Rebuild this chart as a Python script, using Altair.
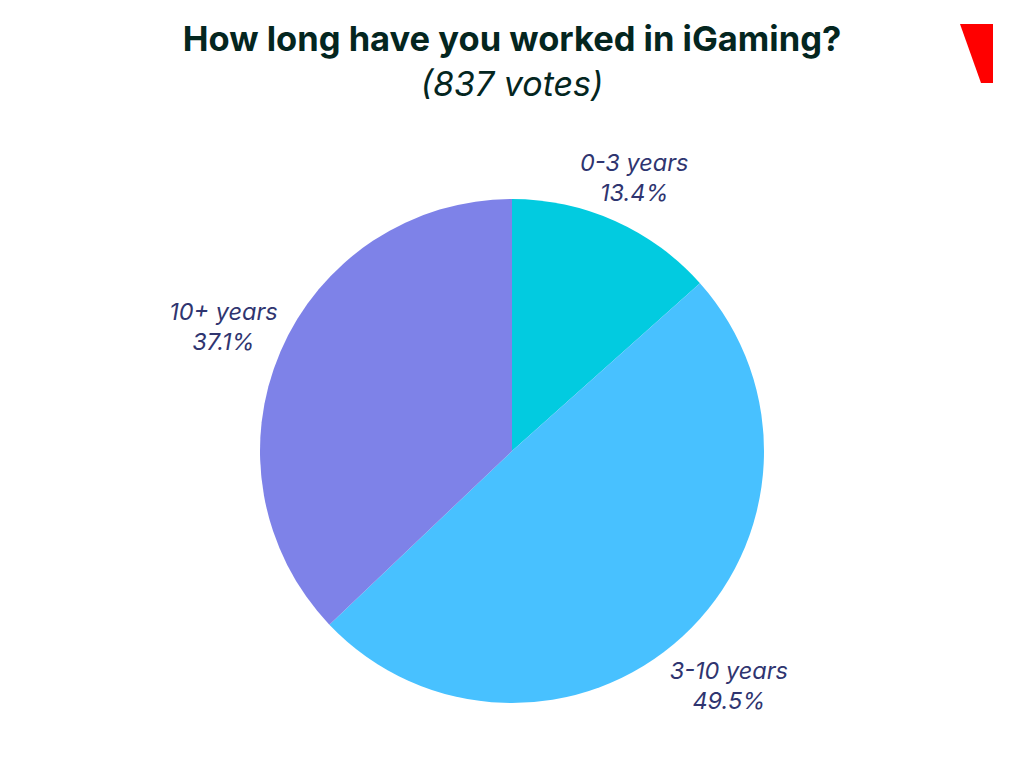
import altair as alt
import pandas as pd

categories = ["0-3 years", "3-10 years", "10+ years"]
shares = [13.4, 49.5, 37.1]
percent_labels = ["13.4%", "49.5%", "37.1%"]
order = [0, 1, 2]
colors = ["#02CBE0", "#48C1FF", "#7E82E8"]
title_text = "How long have you worked in iGaming?"
subtitle_text = "(837 votes)"
deco_x = [960, 981, 993]
deco_top = [24, 24, 24]
deco_bottom = [24, 83, 83]

OX, OY = 8, 8
CX, CY = 512 - OX, 451 - OY
LABEL_FONT = "Inter"
TITLE_FONT = "Inter"

df = pd.DataFrame({"cat": categories, "share": shares, "pct": percent_labels, "order": order})
df["label"] = [[c, p] for c, p in zip(categories, percent_labels)]

theta = alt.Theta("share:Q", stack=True)
base = alt.Chart(df)

arcs = base.mark_arc(outerRadius=252, innerRadius=0, stroke=None).encode(
    theta=theta,
    order=alt.Order("order:Q"),
    color=alt.Color("cat:N", scale=alt.Scale(domain=categories, range=colors), legend=None),
    x=alt.value(CX),
    y=alt.value(CY),
)

radius_expr = "datum.cat === '0-3 years' ? 299 : datum.cat === '3-10 years' ? 320 : 314"
labels = base.mark_text(
    font=LABEL_FONT, fontSize=23.5, fontStyle="italic", color="#2F3570",
    lineHeight=30, align="center", baseline="middle", dy=-14,
    radius=alt.expr(radius_expr),
).encode(
    theta=theta,
    order=alt.Order("order:Q"),
    text=alt.Text("label"),
    x=alt.value(CX),
    y=alt.value(CY),
)

title = alt.Chart(pd.DataFrame({"t": [title_text]})).mark_text(
    font=TITLE_FONT, fontSize=34.5, fontWeight="bold", color="#04261F", align="center", baseline="middle"
).encode(text="t:N", x=alt.value(512 - OX), y=alt.value(41 - OY))

subtitle = alt.Chart(pd.DataFrame({"t": [subtitle_text]})).mark_text(
    font=TITLE_FONT, fontSize=34, fontStyle="italic", color="#04261F", align="center", baseline="middle"
).encode(text="t:N", x=alt.value(512 - OX), y=alt.value(86 - OY))

deco_df = pd.DataFrame({
    "x": [v - OX for v in deco_x],
    "top": [v - OY for v in deco_top],
    "bottom": [v - OY for v in deco_bottom],
})
px_x = alt.Scale(domain=[0, 1008], range=[0, 1008])
px_y = alt.Scale(domain=[0, 750], range=[0, 750])
deco = alt.Chart(deco_df).mark_area(color="#FF0000", opacity=1, interpolate="linear").encode(
    x=alt.X("x:Q", scale=px_x, axis=None),
    y=alt.Y("top:Q", scale=px_y, axis=None),
    y2="bottom:Q",
)

chart = (
    alt.layer(arcs, labels, title, subtitle, deco)
    .resolve_scale(x="independent", y="independent")
    .properties(width=1008, height=750, padding=0, autosize=alt.AutoSizeParams(type="none"), background="#FFFFFF")
    .configure_view(stroke=None)
)
chart.save("out.html", embed_options={"renderer": "svg", "actions": False})
